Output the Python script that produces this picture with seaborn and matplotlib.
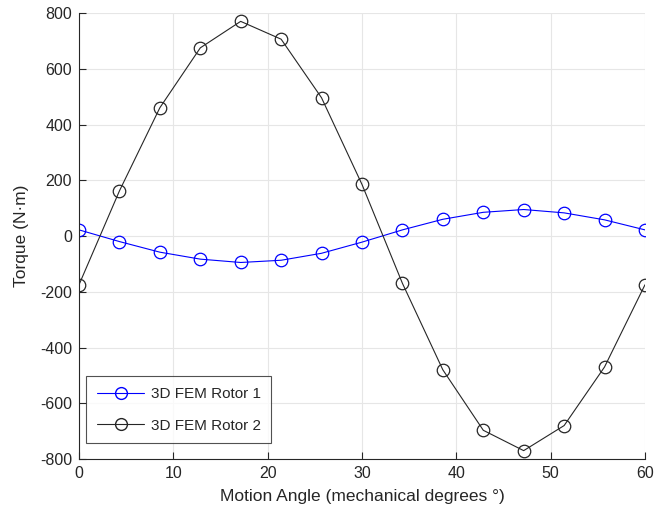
import numpy as np
import pandas as pd
import matplotlib
matplotlib.use("Agg")
import matplotlib.pyplot as plt
import seaborn as sns

angle = [0, 4.29, 8.57, 12.86, 17.14, 21.43, 25.71, 30, 34.29, 38.57, 42.86, 47.14, 51.43, 55.71, 60]
rotor1 = [22, -20, -58, -83, -95, -87, -62, -22, 22, 60, 85, 95, 83, 58, 22]
rotor2 = [-175, 162, 460, 675, 770, 706, 496, 185, -170, -480, -697, -770, -680, -470, -175]
labels = ["3D FEM Rotor 1", "3D FEM Rotor 2"]
colors = ["#0000FF", "#262626"]

df = pd.DataFrame({
    "angle": angle * 2,
    "torque": rotor1 + rotor2,
    "series": [labels[0]] * len(angle) + [labels[1]] * len(angle),
})

sns.set_style("white")
plt.rcParams["font.family"] = ["Liberation Sans", "DejaVu Sans"]
plt.rcParams["axes.unicode_minus"] = False

fig = plt.figure(figsize=(6.55, 5.18), dpi=100)
ax = fig.add_axes([0.1206, 0.1139, 0.8641, 0.861])

sns.lineplot(data=df, x="angle", y="torque", hue="series", palette=colors,
             marker="o", markersize=9, markerfacecolor="none", markeredgewidth=0.9,
             linewidth=0.8, ax=ax, legend=False)
for line, c in zip(ax.lines, colors):
    line.set_markeredgecolor(c)

ax.set_xlim(0, 60)
ax.set_ylim(-800, 800)
ax.set_xticks(range(0, 61, 10))
ax.set_yticks(range(-800, 801, 200))
ax.grid(True, color="#e6e6e6", linewidth=0.8)
ax.set_axisbelow(True)
for s in ["top", "right"]:
    ax.spines[s].set_visible(False)
for s in ["left", "bottom"]:
    ax.spines[s].set_color("#262626")
    ax.spines[s].set_linewidth(0.8)
ax.tick_params(axis="both", direction="in", length=5, width=0.8, colors="#262626",
               labelsize=11.5, labelcolor="#262626", pad=5, left=True, bottom=True)
ax.set_xlabel("Motion Angle (mechanical degrees °)", fontsize=12.5, color="#262626", labelpad=6)
ax.set_ylabel("Torque (N·m)", fontsize=12.5, color="#262626", labelpad=8)

handles = [plt.Line2D([], [], color=c, marker="o", markersize=8.5, markerfacecolor="none",
                      markeredgecolor=c, linewidth=0.8) for c in colors]
leg = ax.legend(handles, labels, loc="lower left", bbox_to_anchor=(0.005, 0.025),
                fontsize=11, frameon=True, fancybox=False, edgecolor="#262626",
                handlelength=3.1, handletextpad=0.4, borderpad=0.7, labelspacing=1.15,
                borderaxespad=0.3)
leg.get_frame().set_linewidth(0.8)

fig.savefig("out.png", dpi=100)
